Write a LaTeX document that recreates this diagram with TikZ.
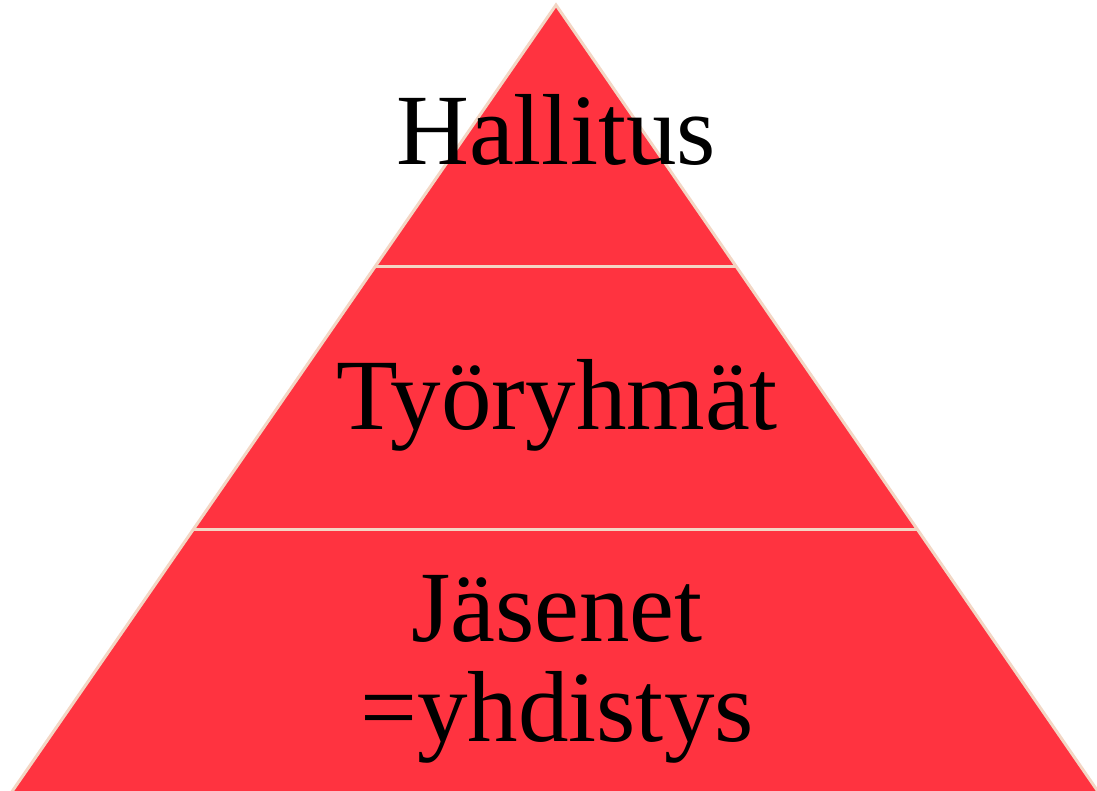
\documentclass[tikz,border=0pt]{standalone}
\usepackage{fontspec}
\setmainfont{Liberation Serif}
\usepackage{tikz}
\usepackage{xcolor}
\usetikzlibrary{calc}

\definecolor{pyramidred}{HTML}{FF3340}
\definecolor{pyramidedge}{HTML}{F3D6C4}

\begin{document}
\begin{tikzpicture}[
    x=1pt, y=1pt,
    tier/.style={fill=pyramidred, draw=pyramidedge, line width=3pt, line join=miter},
    divider/.style={draw=pyramidedge, line width=3pt},
    tierlabel/.style={font=\fontsize{101}{100}\selectfont, text=black, align=center}
]
\useasboundingbox (0,0) rectangle (1097,790);
\clip (0,0) rectangle (1097,790);

% Corners
\coordinate (apex) at (556,785);
\coordinate (baseL) at (11,-3);
\coordinate (baseR) at (1099,-3);

% Pyramid
\draw[tier] (apex) -- (baseR) -- (baseL) -- cycle;

% Dividers
\coordinate (d1L) at ($(apex)!262/788!(baseL)$);
\coordinate (d1R) at ($(apex)!262/788!(baseR)$);
\coordinate (d2L) at ($(apex)!525/788!(baseL)$);
\coordinate (d2R) at ($(apex)!525/788!(baseR)$);
\draw[divider] (d1L) -- (d1R);
\draw[divider] (d2L) -- (d2R);

% Labels
\node[tierlabel, anchor=base] (hallitus) at (556,625) {Hallitus};
\node[tierlabel, anchor=base] (tyoryhmat) at (557,360) {Työryhmät};
\node[tierlabel, anchor=center] (jasenet) at (557,121) {Jäsenet\\=yhdistys};

\end{tikzpicture}
\end{document}
